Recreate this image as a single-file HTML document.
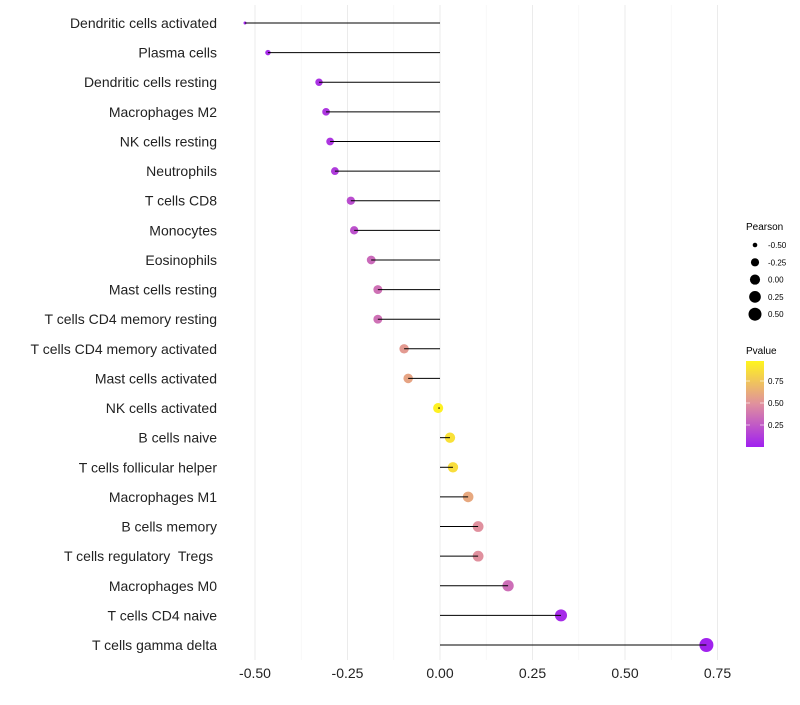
<!DOCTYPE html>
<html><head><meta charset="utf-8"><style>
body{margin:0;background:#fff;font-family:"Liberation Sans",sans-serif}
text{white-space:pre}
</style></head><body>
<svg id="chart" width="800" height="700" xmlns="http://www.w3.org/2000/svg" font-family="Liberation Sans, sans-serif"></svg>
<script>
const categories=["Dendritic cells activated","Plasma cells","Dendritic cells resting","Macrophages M2","NK cells resting","Neutrophils","T cells CD8","Monocytes","Eosinophils","Mast cells resting","T cells CD4 memory resting","T cells CD4 memory activated","Mast cells activated","NK cells activated","B cells naive","T cells follicular helper","Macrophages M1","B cells memory","T cells regulatory  Tregs ","Macrophages M0","T cells CD4 naive","T cells gamma delta"];
const pearson=[-0.527,-0.465,-0.327,-0.308,-0.297,-0.284,-0.241,-0.232,-0.186,-0.168,-0.168,-0.097,-0.086,-0.005,0.027,0.035,0.076,0.103,0.103,0.184,0.327,0.72];
const pvalue=[0.02,0.05,0.08,0.1,0.1,0.12,0.2,0.22,0.33,0.36,0.36,0.55,0.6,0.98,0.9,0.88,0.62,0.5,0.5,0.35,0.05,0.01];
const xTicks=[-0.5,-0.25,0,0.25,0.5,0.75];
const xTickLabels=["-0.50","-0.25","0.00","0.25","0.50","0.75"];
const sizeLegend=[-0.5,-0.25,0,0.25,0.5];
const sizeLegendLabels=["-0.50","-0.25","0.00","0.25","0.50"];
const colorLegend=[0.25,0.5,0.75];
const colorLegendLabels=["0.25","0.50","0.75"];

const svg=document.getElementById('chart');const NS="http://www.w3.org/2000/svg";
function mk(t,a,p){const e=document.createElementNS(NS,t);for(const k in a)e.setAttribute(k,a[k]);(p||svg).appendChild(e);return e;}
const xs=v=>440+v*370;
const ys=i=>23+i*(645-23)/(categories.length-1);
const pMin=Math.min(...pearson),pMax=Math.max(...pearson);
const rs=v=>1.5+5.5*Math.sqrt(Math.max(0,(v-pMin)/(pMax-pMin)));
function col(p){const s=[[160,32,240],[224,144,158],[255,245,30]];let a,b,t;if(p<0.5){a=s[0];b=s[1];t=p/0.5}else{a=s[1];b=s[2];t=(p-0.5)/0.5}return `rgb(${a.map((c,i)=>Math.round(c+(b[i]-c)*t)).join(',')})`;}
for(let v=-0.625;v<=0.8;v+=0.125){if(xs(v)<232||xs(v)>738)continue;const major=Math.abs((v/0.25)-Math.round(v/0.25))<1e-6;const g=mk('line',{x1:xs(v),x2:xs(v),y1:5,y2:660,stroke:major?'#ebebeb':'#f4f4f4','stroke-width':major?1:0.6});}
xTicks.forEach((v,i)=>{const t=mk('text',{x:xs(v),y:678,'text-anchor':'middle','font-size':14,fill:'#222'});t.textContent=xTickLabels[i];});
categories.forEach((c,i)=>{
const t=mk('text',{x:217,y:ys(i)+5,'text-anchor':'end','font-size':14,fill:'#222'});t.textContent=c;
const p=mk('circle',{cx:xs(pearson[i]),cy:ys(i),r:rs(pearson[i]),fill:col(pvalue[i])});
const l=mk('line',{x1:xs(0),x2:xs(pearson[i]),y1:ys(i),y2:ys(i),stroke:'#000','stroke-width':1});
});
let t=mk('text',{x:746,y:230,'font-size':10,fill:'#000'});t.textContent='Pearson';
sizeLegend.forEach((v,i)=>{const y=245+i*17.3;const c=mk('circle',{cx:755,cy:y,r:rs(v),fill:'#000'});const tt=mk('text',{x:768,y:y+3,'font-size':8,fill:'#000'});tt.textContent=sizeLegendLabels[i];});
t=mk('text',{x:746,y:354,'font-size':10,fill:'#000'});t.textContent='Pvalue';
const defs=mk('defs',{});const gr=mk('linearGradient',{id:'pg',x1:0,y1:1,x2:0,y2:0},defs);
[[0,0],[0.5,0.5],[1,1]].forEach(s=>mk('stop',{offset:s[0],'stop-color':col(s[1])},gr));
const cb=mk('rect',{x:746,y:361,width:18,height:86,fill:'url(#pg)'});
const cy=p=>447-p*88;
colorLegend.forEach((v,i)=>{mk('line',{x1:746,x2:750,y1:cy(v),y2:cy(v),stroke:'#fff','stroke-width':0.6});mk('line',{x1:760,x2:764,y1:cy(v),y2:cy(v),stroke:'#fff','stroke-width':0.6});const tt=mk('text',{x:768,y:cy(v)+3,'font-size':8,fill:'#000'});tt.textContent=colorLegendLabels[i];});
</script>
</body></html>
